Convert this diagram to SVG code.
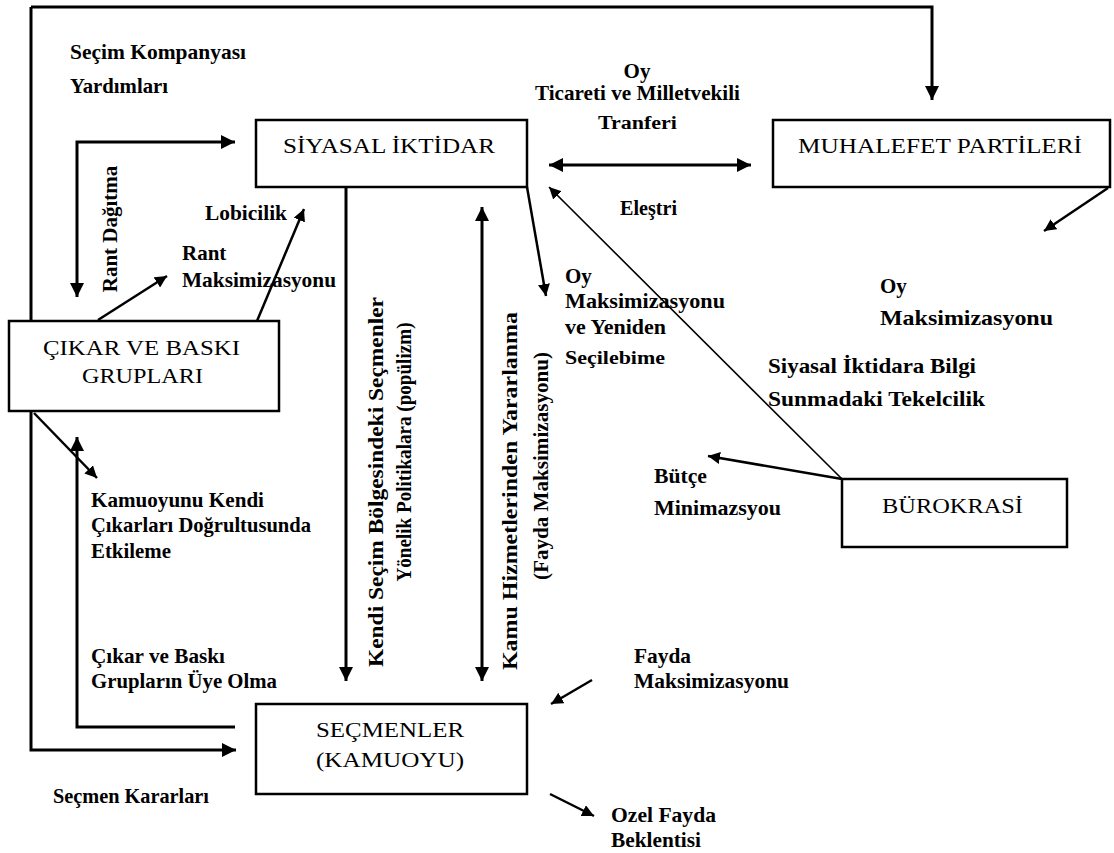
<svg xmlns="http://www.w3.org/2000/svg" width="1114" height="853" viewBox="0 0 1114 853">
<defs>
<marker id="ah" markerUnits="userSpaceOnUse" markerWidth="15" markerHeight="14" refX="14" refY="7" orient="auto-start-reverse">
<path d="M0,0 L14,7 L0,14 z" fill="#000"/>
</marker>
<marker id="ahs" markerUnits="userSpaceOnUse" markerWidth="13" markerHeight="12" refX="12" refY="6" orient="auto-start-reverse">
<path d="M0,0 L12,6 L0,12 z" fill="#000"/>
</marker>
</defs>
<style>
.box{fill:#fff;stroke:#000;stroke-width:2.5}
.bt{font-family:"Liberation Serif","Times New Roman",serif;font-size:20px;fill:#000}
.lb{font-family:"Liberation Serif","Times New Roman",serif;font-size:21px;font-weight:bold;fill:#000}
.sm{font-size:18px}
.ln{fill:none;stroke:#000;stroke-width:3}
.dg{fill:none;stroke:#000;stroke-width:2.5}
.th{fill:none;stroke:#000;stroke-width:1.6}
</style>
<rect width="1114" height="853" fill="#fff"/>

<g id="connectors">
<path class="ln" d="M31 7 H932 V100" marker-end="url(#ah)"/>
<path class="ln" d="M31 7 V750 H236" marker-end="url(#ah)"/>
<path class="ln" d="M77 297 V142 H235" marker-start="url(#ah)" marker-end="url(#ah)"/>
<path class="dg" d="M257 321 L304 209" marker-end="url(#ahs)"/>
<path class="dg" d="M98 320 L167 276" marker-end="url(#ahs)"/>
<path class="dg" d="M34 413 L97 478" marker-end="url(#ahs)"/>
<path class="ln" d="M235 727 H77 V437" marker-end="url(#ah)"/>
<path class="ln" d="M346 187 V681" marker-end="url(#ah)"/>
<path class="ln" d="M482 207 V681" marker-start="url(#ah)" marker-end="url(#ah)"/>
<path class="dg" d="M527 187 L546 296" marker-end="url(#ahs)"/>
<path class="ln" d="M549 165 H751" marker-start="url(#ah)" marker-end="url(#ah)"/>
<path class="th" d="M842 479 L549 187" marker-end="url(#ahs)"/>
<path class="dg" d="M842 479 L708 456" marker-end="url(#ahs)"/>
<path class="dg" d="M1108 188 L1044 231" marker-end="url(#ahs)"/>
<path class="dg" d="M592 680 L551 704" marker-end="url(#ahs)"/>
<path class="dg" d="M550 794 L594 816" marker-end="url(#ahs)"/>
</g>

<g id="siyasal-iktidar">
<rect class="box" x="256" y="120" width="271" height="67"/>
<text class="bt" x="283" y="153" textLength="212" lengthAdjust="spacingAndGlyphs">SİYASAL İKTİDAR</text>
</g>

<g id="muhalefet-partileri">
<rect class="box" x="773" y="120" width="337" height="67"/>
<text class="bt" x="798" y="153" textLength="284" lengthAdjust="spacingAndGlyphs">MUHALEFET PARTİLERİ</text>
</g>

<g id="cikar-ve-baski-gruplari">
<rect class="box" x="9" y="321" width="270" height="90"/>
<text class="bt" x="43" y="355" textLength="197" lengthAdjust="spacingAndGlyphs">ÇIKAR VE BASKI</text>
<text class="bt" x="82" y="383" textLength="121" lengthAdjust="spacingAndGlyphs">GRUPLARI</text>
</g>

<g id="burokrasi">
<rect class="box" x="842" y="479" width="225" height="68"/>
<text class="bt" x="882" y="513" textLength="141" lengthAdjust="spacingAndGlyphs">BÜROKRASİ</text>
</g>

<g id="secmenler">
<rect class="box" x="256" y="704" width="271" height="90"/>
<text class="bt" x="316" y="737" textLength="148" lengthAdjust="spacingAndGlyphs">SEÇMENLER</text>
<text class="bt" x="316" y="767" textLength="148" lengthAdjust="spacingAndGlyphs">(KAMUOYU)</text>
</g>

<g id="labels">
<text class="lb" x="70" y="59" textLength="176" lengthAdjust="spacingAndGlyphs">Seçim Kompanyası</text>
<text class="lb" x="70" y="93" textLength="98" lengthAdjust="spacingAndGlyphs">Yardımları</text>

<text class="lb" x="637" y="78" text-anchor="middle">Oy</text>
<text class="lb" x="535" y="100" textLength="205" lengthAdjust="spacingAndGlyphs">Ticareti ve Milletvekili</text>
<text class="lb sm" x="598" y="129" textLength="79" lengthAdjust="spacingAndGlyphs">Tranferi</text>
<text class="lb" x="620" y="215" textLength="57" lengthAdjust="spacingAndGlyphs">Eleştri</text>

<text class="lb" x="205" y="220" textLength="82" lengthAdjust="spacingAndGlyphs">Lobicilik</text>
<text class="lb" x="182" y="260">Rant</text>
<text class="lb" x="182" y="287" textLength="154" lengthAdjust="spacingAndGlyphs">Maksimizasyonu</text>
<text class="lb" transform="translate(117,229) rotate(-90)" text-anchor="middle">Rant Dağıtma</text>

<text class="lb" x="565" y="283">Oy</text>
<text class="lb" x="565" y="308" textLength="160" lengthAdjust="spacingAndGlyphs">Maksimizasyonu</text>
<text class="lb" x="565" y="334" textLength="101" lengthAdjust="spacingAndGlyphs">ve Yeniden</text>
<text class="lb sm" x="565" y="364" textLength="100" lengthAdjust="spacingAndGlyphs">Seçilebime</text>

<text class="lb" x="880" y="293">Oy</text>
<text class="lb" x="880" y="325" textLength="173" lengthAdjust="spacingAndGlyphs">Maksimizasyonu</text>

<text class="lb" x="768" y="373" textLength="208" lengthAdjust="spacingAndGlyphs">Siyasal İktidara Bilgi</text>
<text class="lb" x="768" y="406" textLength="217" lengthAdjust="spacingAndGlyphs">Sunmadaki Tekelcilik</text>

<text class="lb" x="654" y="483" textLength="53" lengthAdjust="spacingAndGlyphs">Bütçe</text>
<text class="lb" x="654" y="515" textLength="127" lengthAdjust="spacingAndGlyphs">Minimazsyou</text>

<text class="lb" x="91" y="507" textLength="173" lengthAdjust="spacingAndGlyphs">Kamuoyunu Kendi</text>
<text class="lb" x="91" y="532" textLength="220" lengthAdjust="spacingAndGlyphs">Çıkarları Doğrultusunda</text>
<text class="lb" x="91" y="558" textLength="80" lengthAdjust="spacingAndGlyphs">Etkileme</text>

<text class="lb" transform="translate(383,482) rotate(-90)" text-anchor="middle" textLength="370" lengthAdjust="spacingAndGlyphs">Kendi Seçim Bölgesindeki Seçmenler</text>
<text class="lb" transform="translate(411,452) rotate(-90)" text-anchor="middle" textLength="259" lengthAdjust="spacingAndGlyphs">Yönelik Politikalara (popülizm)</text>
<text class="lb" transform="translate(517,491) rotate(-90)" text-anchor="middle" textLength="358" lengthAdjust="spacingAndGlyphs">Kamu Hizmetlerinden Yararlanma</text>
<text class="lb" transform="translate(548,466) rotate(-90)" text-anchor="middle" textLength="228" lengthAdjust="spacingAndGlyphs">(Fayda Maksimizasyonu)</text>

<text class="lb" x="91" y="663" textLength="134" lengthAdjust="spacingAndGlyphs">Çıkar ve Baskı</text>
<text class="lb" x="91" y="688" textLength="186" lengthAdjust="spacingAndGlyphs">Grupların Üye Olma</text>

<text class="lb" x="634" y="663" textLength="57" lengthAdjust="spacingAndGlyphs">Fayda</text>
<text class="lb" x="634" y="688" textLength="155" lengthAdjust="spacingAndGlyphs">Maksimizasyonu</text>

<text class="lb" x="53" y="803" textLength="156" lengthAdjust="spacingAndGlyphs">Seçmen Kararları</text>

<text class="lb" x="611" y="822" textLength="105" lengthAdjust="spacingAndGlyphs">Ozel Fayda</text>
<text class="lb" x="611" y="847" textLength="90" lengthAdjust="spacingAndGlyphs">Beklentisi</text>
</g>
</svg>
